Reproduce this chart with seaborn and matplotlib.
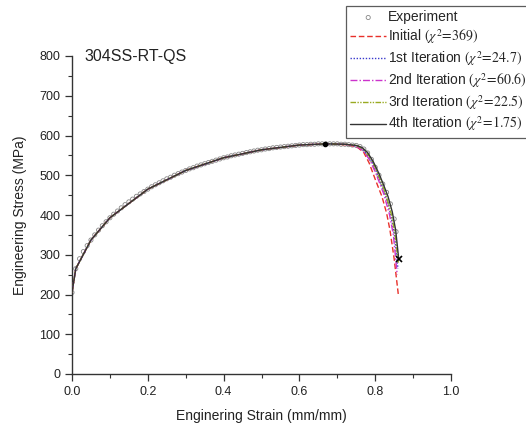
import matplotlib
matplotlib.use("Agg")
import matplotlib.pyplot as plt
import seaborn as sns

sns.set_style("ticks")
plt.rcParams['font.family'] = ['Liberation Sans', 'DejaVu Sans']
plt.rcParams['mathtext.fontset'] = 'stix'

# Experiment
exp_x = [0.00, 0.01, 0.02, 0.03, 0.04, 0.05, 0.06, 0.07, 0.08, 0.09,
         0.10, 0.11, 0.12, 0.13, 0.14, 0.15, 0.16, 0.17, 0.18, 0.19,
         0.20, 0.21, 0.22, 0.23, 0.24, 0.25, 0.26, 0.27, 0.28, 0.29,
         0.30, 0.31, 0.32, 0.33, 0.34, 0.35, 0.36, 0.37, 0.38, 0.39,
         0.40, 0.41, 0.42, 0.43, 0.44, 0.45, 0.46, 0.47, 0.48, 0.49,
         0.50, 0.51, 0.52, 0.53, 0.54, 0.55, 0.56, 0.57, 0.58, 0.59,
         0.60, 0.61, 0.62, 0.63, 0.64, 0.65, 0.66, 0.67, 0.68, 0.69,
         0.70, 0.71, 0.72, 0.73, 0.74, 0.75, 0.76, 0.77, 0.78, 0.79,
         0.80, 0.81, 0.82, 0.83, 0.84, 0.85, 0.855]
exp_y = [205, 265, 290, 308, 323, 337, 350, 362, 373, 383,
         393, 402, 410, 418, 426, 433, 440, 447, 453, 459,
         465, 471, 476, 481, 486, 491, 495, 500, 504, 508,
         512, 516, 519, 523, 526, 529, 532, 535, 538, 541,
         544, 546, 549, 551, 553, 555, 557, 559, 561, 563,
         564, 566, 567, 569, 570, 571, 572, 573, 574, 575,
         576, 577, 577, 578, 578, 579, 579, 579, 579, 579,
         579, 578, 578, 577, 576, 575, 572, 566, 556, 540,
         520, 500, 478, 457, 428, 390, 358]

# Initial fit
init_x = [0.000, 0.010, 0.050, 0.100, 0.200, 0.300, 0.400, 0.500, 0.600, 0.670, 0.720,
          0.740, 0.755, 0.770, 0.784, 0.800, 0.818, 0.830, 0.839, 0.850, 0.861]
init_y = [205, 265, 337, 393, 465, 512, 544, 564, 576, 579, 577,
          574, 569, 557, 531, 490, 446, 405, 362, 290, 200]

# 1st iteration
it1_x = [0.000, 0.010, 0.050, 0.100, 0.200, 0.300, 0.400, 0.500, 0.600, 0.670, 0.720,
         0.750, 0.770, 0.790, 0.805, 0.825, 0.840, 0.850, 0.860]
it1_y = [205, 265, 337, 393, 465, 512, 544, 564, 576, 579, 578,
         574, 563, 537, 505, 455, 405, 355, 265]

# 2nd iteration
it2_x = [0.000, 0.010, 0.050, 0.100, 0.200, 0.300, 0.400, 0.500, 0.600, 0.670, 0.720,
         0.750, 0.768, 0.788, 0.803, 0.823, 0.838, 0.848, 0.858]
it2_y = [205, 265, 337, 393, 465, 512, 544, 564, 576, 579, 578,
         573, 562, 535, 502, 452, 400, 350, 250]

# 3rd iteration
it3_x = [0.000, 0.010, 0.050, 0.100, 0.200, 0.300, 0.400, 0.500, 0.600, 0.670, 0.720,
         0.750, 0.772, 0.792, 0.807, 0.828, 0.843, 0.852, 0.861]
it3_y = [205, 265, 337, 393, 465, 512, 544, 564, 576, 579, 578,
         575, 564, 537, 504, 452, 400, 355, 280]

# 4th iteration
it4_x = [0.000, 0.010, 0.050, 0.100, 0.200, 0.300, 0.400, 0.500, 0.600, 0.670, 0.720,
         0.750, 0.765, 0.780, 0.795, 0.810, 0.822, 0.834, 0.845, 0.854, 0.862]
it4_y = [205, 265, 337, 393, 465, 512, 544, 564, 576, 579, 578,
         575, 570, 557, 534, 504, 476, 446, 408, 362, 290]

peak_x = [0.668]
peak_y = [579]
fail_x = [0.862]
fail_y = [290]

labels = ["Experiment",
          r"Initial $(\chi^2\!=\!369)$",
          r"1st Iteration $(\chi^2\!=\!24.7)$",
          r"2nd Iteration $(\chi^2\!=\!60.6)$",
          r"3rd Iteration $(\chi^2\!=\!22.5)$",
          r"4th Iteration $(\chi^2\!=\!1.75)$"]

fig = plt.figure(figsize=(5.26, 4.28), dpi=100)
ax = fig.add_axes([72/526, 1-374/428, (451-72)/526, (374-56)/428])

sns.scatterplot(x=exp_x, y=exp_y, ax=ax, marker='o', s=9, facecolors='none',
                edgecolor='#888888', linewidth=0.6, label=labels[0], zorder=2)
sns.lineplot(x=init_x, y=init_y, ax=ax, sort=False, color='#e8302a', linestyle=(0, (4, 2)),
             linewidth=1.0, label=labels[1], zorder=3)
sns.lineplot(x=it1_x, y=it1_y, ax=ax, sort=False, color='#3a3acc', linestyle=(0, (1, 1.2)),
             linewidth=1.0, label=labels[2], zorder=3)
sns.lineplot(x=it2_x, y=it2_y, ax=ax, sort=False, color='#cc33cc', linestyle=(0, (5, 1.5, 1, 1.5)),
             linewidth=1.0, label=labels[3], zorder=3)
sns.lineplot(x=it3_x, y=it3_y, ax=ax, sort=False, color='#99aa22', linestyle=(0, (4, 1, 1, 1, 1, 1)),
             linewidth=1.0, label=labels[4], zorder=3)
sns.lineplot(x=it4_x, y=it4_y, ax=ax, sort=False, color='#333333', linestyle='-',
             linewidth=1.0, label=labels[5], zorder=4)
ax.plot(peak_x, peak_y, marker='o', color='black', markersize=3, linestyle='none', zorder=5)
ax.plot(fail_x, fail_y, marker='x', color='black', markersize=5, mew=1.2, linestyle='none', zorder=5)

ax.set_xlim(0, 1.0)
ax.set_ylim(0, 800)
ax.set_xticks([0.0, 0.2, 0.4, 0.6, 0.8, 1.0])
ax.set_xticklabels(["0.0", "0.2", "0.4", "0.6", "0.8", "1.0"])
ax.set_xticks([0.1, 0.3, 0.5, 0.7, 0.9], minor=True)
ax.set_yticks([0, 100, 200, 300, 400, 500, 600, 700, 800])
ax.set_yticks(list(range(50, 800, 100)), minor=True)
ax.tick_params(axis='both', which='major', length=5, width=0.9, labelsize=9, color='#333333',
               labelcolor='#222222', direction='out')
ax.tick_params(axis='both', which='minor', length=3, width=0.8, color='#333333', direction='out')
for sp in ['left', 'bottom']:
    ax.spines[sp].set_linewidth(1.0)
    ax.spines[sp].set_color('#333333')
sns.despine(ax=ax)

ax.set_xlabel("Enginering Strain (mm/mm)", fontsize=10, color='#222222', labelpad=8)
ax.set_ylabel("Engineering Stress (MPa)", fontsize=10, color='#222222', labelpad=9)
ax.text(0.034, 800, "304SS-RT-QS", fontsize=11.5, va='center', ha='left', color='#222222')

leg = ax.legend(loc='upper left', bbox_to_anchor=(346/526, 1-6/428), bbox_transform=fig.transFigure,
                fontsize=10, frameon=True, fancybox=False, handlelength=2.6, handletextpad=0.15,
                labelspacing=0.22, borderpad=0.3, borderaxespad=0, markerscale=1.0)
leg.get_frame().set_edgecolor('#333333')
leg.get_frame().set_linewidth(0.9)

fig.savefig("out.png", dpi=100)
